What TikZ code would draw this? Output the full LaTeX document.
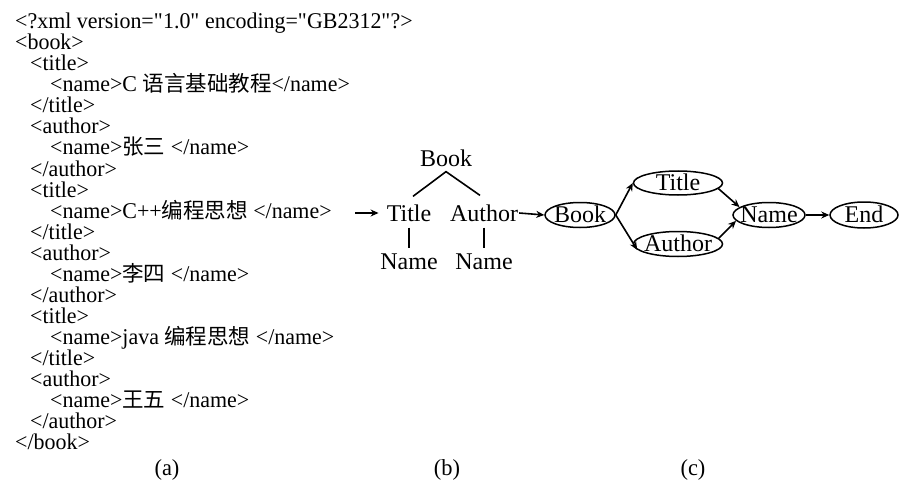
\documentclass[tikz,border=0pt]{standalone}
\usepackage{fontspec}
\setmainfont{Liberation Serif}
\newfontfamily\codefont[FakeStretch=0.975]{Liberation Serif}
\newfontfamily\cjk{Noto Sans CJK SC}
\usetikzlibrary{shapes.geometric,arrows.meta}
\newcommand\zh[1]{{\cjk\fontsize{21.5}{21.5}\selectfont #1}}
\newcommand\q{\textquotedbl}
\newcommand\etext[1]{\raisebox{-7.8pt}[0pt][0pt]{\makebox[0pt]{#1}}}
\begin{document}
\begin{tikzpicture}[x=1pt,y=-1pt,
  code/.style={anchor=base west,inner sep=0pt,font=\codefont\fontsize{22.5}{22.5}\selectfont},
  lbl/.style={inner sep=0pt,font=\fontsize{24}{24}\selectfont},
  ell/.style={draw,ellipse,line width=1.5pt,inner sep=0pt,font=\fontsize{24}{24}\selectfont},
  arr/.style={line width=1.6pt,-{Stealth[length=8pt,width=7pt]}},
  tl/.style={line width=1.6pt},
  captn/.style={inner sep=0pt,font=\codefont\fontsize{23}{23}\selectfont}]
\useasboundingbox (0,0) rectangle (901,481);
% (a) XML listing
\node[code] (l1)  at (15, 29)  {<?xml version=\q1.0\q{} encoding=\q GB2312\q?>};
\node[code] (l2)  at (15, 50)  {<book>};
\node[code] (l3)  at (30, 71)  {<title>};
\node[code] (l4)  at (50, 92)  {<name>C \zh{语言基础教程}</name>};
\node[code] (l5)  at (30,113)  {</title>};
\node[code] (l6)  at (30,134)  {<author>};
\node[code] (l7)  at (50,155)  {<name>\zh{张三} </name>};
\node[code] (l8)  at (30,176)  {</author>};
\node[code] (l9)  at (30,197)  {<title>};
\node[code] (l10) at (50,218)  {<name>C++\zh{编程思想} </name>};
\node[code] (l11) at (30,239)  {</title>};
\node[code] (l12) at (30,260)  {<author>};
\node[code] (l13) at (50,281)  {<name>\zh{李四} </name>};
\node[code] (l14) at (30,302)  {</author>};
\node[code] (l15) at (30,323)  {<title>};
\node[code] (l16) at (50,344)  {<name>java \zh{编程思想} </name>};
\node[code] (l17) at (30,365)  {</title>};
\node[code] (l18) at (30,386)  {<author>};
\node[code] (l19) at (50,407)  {<name>\zh{王五} </name>};
\node[code] (l20) at (30,428)  {</author>};
\node[code] (l21) at (15,449)  {</book>};
% (b) tree
\node[lbl] (B1) at (446,158) {Book};
\node[lbl] (T1) at (409,213) {Title};
\node[lbl] (A1) at (484,213) {Author};
\node[lbl] (N1a) at (409,262) {Name};
\node[lbl] (N1b) at (484,262) {Name};
\draw[tl] ([xshift=4pt,yshift=8pt]T1.north) -- ([yshift=-5pt]B1.south) -- ([xshift=-4pt,yshift=9pt]A1.north);
\draw[tl] ([yshift=-6pt]T1.south) -- ([yshift=6pt]N1a.north);
\draw[tl] ([yshift=-6pt]A1.south) -- ([yshift=6pt]N1b.north);
\coordinate (in) at (355,213);
\draw[arr] (in) -- ([xshift=-8pt]T1.west);
% (c) automaton
\node[ell,minimum width=70pt,minimum height=25pt] (B2) at (580,215) {\etext{Book}};
\node[ell,minimum width=89pt,minimum height=24pt] (T2) at (678,183) {\etext{Title}};
\node[ell,minimum width=89pt,minimum height=25pt] (A2) at (678,244) {\etext{Author}};
\node[ell,minimum width=72pt,minimum height=25pt] (N2) at (769,215) {\etext{Name}};
\node[ell,minimum width=68pt,minimum height=26pt] (E2) at (864,215) {\etext{End}};
\draw[arr] ([xshift=1pt]A1.east) -- (B2.west);
\draw[arr] (B2.east) -- (T2.west);
\draw[arr] (B2.east) -- (A2.188);
\draw[arr] (T2.-8) -- (N2.165);
\draw[arr] (A2.8) -- (N2.190);
\draw[arr] (N2.east) -- (E2.west);
% captions
\node[captn] (ca) at (167,470) {(a)};
\node[captn] (cb) at (447,470) {(b)};
\node[captn] (cc) at (693,470) {(c)};
\end{tikzpicture}
\end{document}
